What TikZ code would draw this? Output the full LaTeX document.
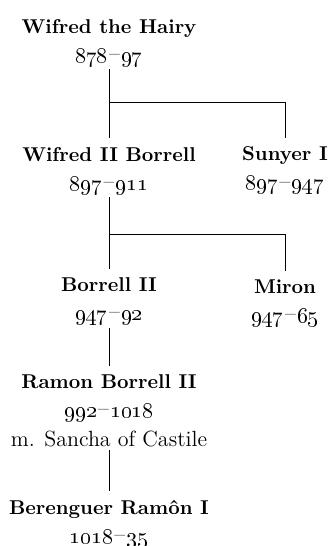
\documentclass[tikz,border=0pt]{standalone}
\usepackage{amsmath}
\usetikzlibrary{calc,positioning}
\newcommand{\who}[1]{{\fontsize{10}{12}\bfseries #1}}
\newcommand{\reign}[2]{\oldstylenums{#1}\raisebox{.2ex}{\kern.6pt--\kern.6pt}\oldstylenums{#2}}

\begin{document}
\begin{tikzpicture}
%defines
  [x=0.5pt,y=-0.5pt,
person/.style={anchor=north,align=center,inner sep=0pt,outer sep=0pt,
font=\fontsize{11}{14.5}\selectfont},
link/.style={draw,line width=.5pt,shorten <=1.5pt,shorten >=4.5pt},
branch/.style={draw,line width=.5pt,shorten >=4.5pt}]
\useasboundingbox (0,0) rectangle (330,546);
%nodes
\node[person] (hairy)     at (109,19)  {\who{Wifred the Hairy}\\\reign{878}{97}};
\node[person] (wifred)    at (109,147) {\who{Wifred II Borrell}\\\reign{897}{911}};
\node[person] (sunyer)    at (285,147) {\who{Sunyer I}\\\reign{897}{947}};
\node[person] (borrell)   at (109,278) {\who{Borrell II}\\\reign{947}{92}};
\node[person] (miron)     at (285,280) {\who{Miron}\\\reign{947}{65}};
\node[person] (ramon)     at (109,375) {\who{Ramon Borrell II}\\\reign{992}{1018}\\m. Sancha of Castile};
\node[person] (berenguer) at (109,500) {\who{Berenguer Ramôn I}\\\reign{1018}{35}};
%links
\coordinate (fork1) at ($(hairy.south)!0.45!(wifred.north)$);
\coordinate (fork2) at ($(wifred.south)!0.475!(borrell.north)$);
\draw [link] (hairy.south) -- (wifred.north);
\draw [branch] (fork1) -| (sunyer.north);
\draw [link] (wifred.south) -- (borrell.north);
\draw [branch] (fork2) -| (miron.north);
\draw [link] (borrell.south) -- (ramon.north);
\draw [link] (ramon.south) -- (berenguer.north);
\end{tikzpicture}
\end{document}
